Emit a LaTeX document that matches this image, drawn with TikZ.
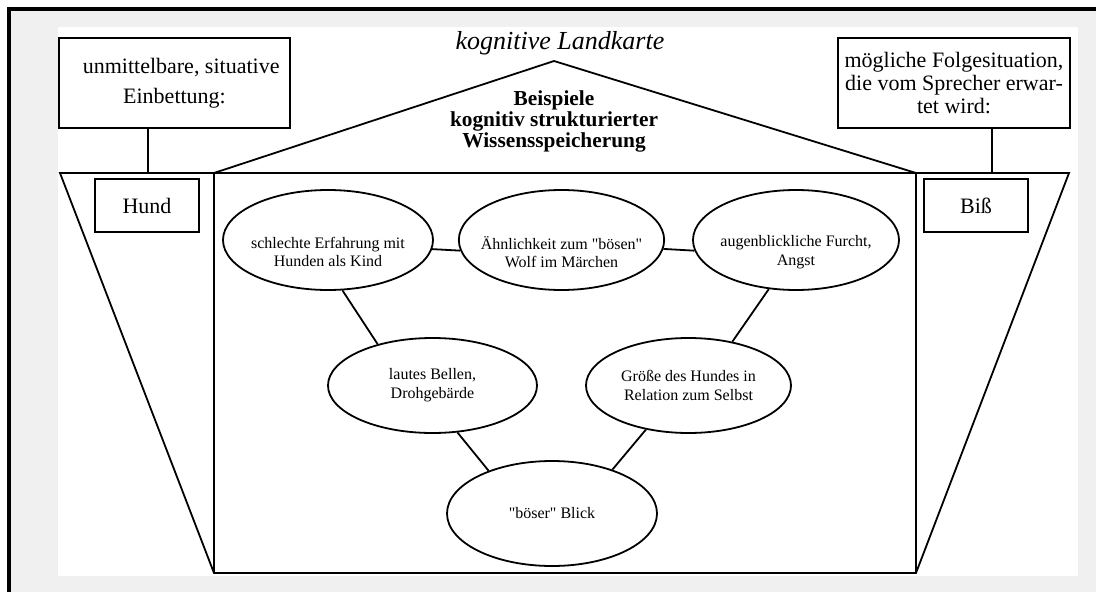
\documentclass[tikz,border=0pt]{standalone}
\usepackage{fontspec}
\setmainfont{Liberation Serif}[Ligatures=TeXOff]
\usetikzlibrary{shapes.geometric}
\definecolor{panel}{HTML}{F0F0F0}

\begin{document}
\begin{tikzpicture}[x=0.75pt, y=-0.75pt,
  ln/.style={line width=1.35pt, line join=miter},
  headbox/.style={draw, ln, rectangle, inner sep=0pt, align=center,
    minimum height=67.5pt, font=\fontsize{16.5}{17.5}\selectfont},
  wordbox/.style={draw, ln, rectangle, inner sep=0pt, minimum width=78pt,
    minimum height=39.75pt, font=\fontsize{16.5}{18}\selectfont},
  idea/.style={draw, ln, ellipse, inner sep=0pt, align=center,
    font=\fontsize{12}{14}\selectfont},
  ideatext/.style={inner sep=0pt, align=center, font=\fontsize{12}{14}\selectfont}]

\useasboundingbox (0,0) rectangle (1096,592);

% frame and sheet
\fill[white] (0,0) rectangle (1096,592);
\fill[panel] (11,11) rectangle (1096,592);
\fill[black] (7,7) rectangle (1096,11);
\fill[black] (7,7) rectangle (11,592);
\fill[white] (58,27) rectangle (1078,576);

% outline of the map: trapezoid, inner frame and roof
\coordinate (tl) at (60,173);
\coordinate (tr) at (1069,173);
\coordinate (bl) at (214,573);
\coordinate (br) at (916,573);
\coordinate (cl) at (214,173);
\coordinate (cr) at (916,173);
\coordinate (apex) at (554,61);
\coordinate (lj) at (148,173);
\coordinate (rj) at (992,173);

\draw[ln] (tl) -- (tr) -- (br) -- (bl) -- cycle;
\draw[ln] (cl) -- (bl);
\draw[ln] (cr) -- (br);
\draw[ln] (cl) -- (apex) -- (cr);

% headings
\node[font=\itshape\fontsize{19.5}{20}\selectfont, anchor=base] (map) at (560,50) {kognitive Landkarte};
\node[font=\bfseries\fontsize{16}{15.75}\selectfont, align=center] (title) at (554,121)
  {Beispiele\\kognitiv strukturierter\\Wissensspeicherung};

% side boxes
\node[headbox, minimum width=173.25pt, font=\fontsize{16.5}{22.5}\selectfont] (lhead) at (174.5,83)
  {\hspace*{10pt}unmittelbare, situative\\Einbettung:};
\node[headbox, minimum width=174pt] (rhead) at (954,83)
  {mögliche Folgesituation,\\die vom Sprecher erwar-\\tet wird:};
\draw[ln] (lj |- lhead.south) -- (lj);
\draw[ln] (rj |- rhead.south) -- (rj);

\node[wordbox] (hund) at (147,205.5) {Hund};
\node[wordbox] (biss) at (976,205.5) {Biß};

% associations: upper row (text sits a little below the middle)
\node[idea, minimum width=157.5pt, minimum height=75pt] (e1) at (328,240) {};
\node[idea, minimum width=154pt, minimum height=75pt] (e2) at (561.5,240) {};
\node[idea, minimum width=154.5pt, minimum height=75pt] (e3) at (796,240) {};
\node[ideatext] (t1) at (328,252) {schlechte Erfahrung mit\\Hunden als Kind};
\node[ideatext] (t2) at (561.5,252) {Ähnlichkeit zum "bösen"\\Wolf im Märchen};
\node[ideatext] (t3) at (796,252) {augenblickliche Furcht,\\Angst};

% lower rows
\node[idea, minimum width=156.75pt, minimum height=71.25pt] (e4) at (432.5,385.5)
  {lautes Bellen,\\Drohgebärde};
\node[idea, minimum width=153.75pt, minimum height=71.25pt] (e5) at (688.5,385.5)
  {Größe des Hundes in\\Relation zum Selbst};
\node[idea, minimum width=157.5pt, minimum height=78.75pt] (e6) at (552,513.5)
  {"böser" Blick};

\draw[ln] (e1.-5.5) -- (e2.-174.5);
\draw[ln] (e2.-5.5) -- (e3.-174.5);
\draw[ln] (e1.-74) -- (e4.143);
\draw[ln] (e3.-119) -- (e5.45);
\draw[ln] (e4.-62) -- (e6.146);
\draw[ln] (e5.-134) -- (e6.36);

\end{tikzpicture}
\end{document}
